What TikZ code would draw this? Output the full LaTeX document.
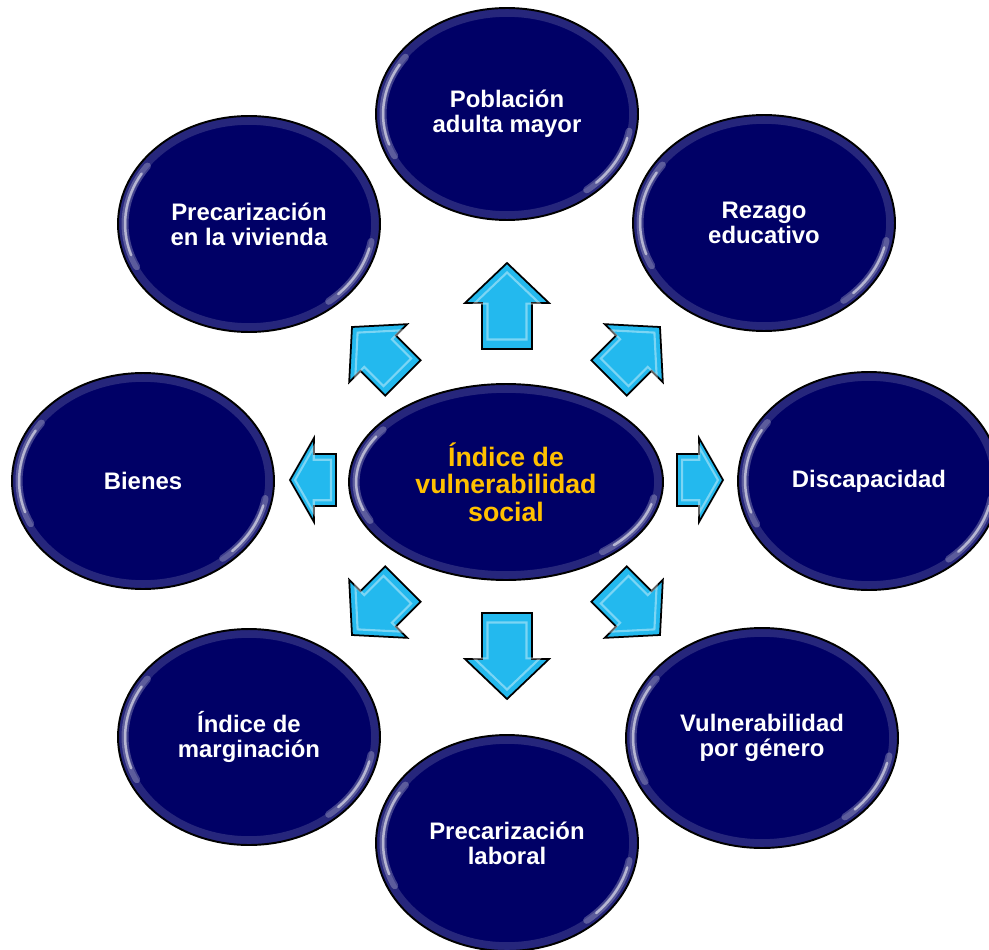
\documentclass[tikz,border=0pt]{standalone}
\usepackage{fontspec}
\setmainfont{Liberation Sans}
\definecolor{bubblenavy}{RGB}{0,0,102}
\definecolor{arrowcyan}{RGB}{35,185,238}
\definecolor{titlegold}{RGB}{255,192,0}
\usetikzlibrary{shapes.geometric,calc}

\tikzset{
  bubble/.style={ellipse, draw=black, line width=1.1pt, fill=bubblenavy, text=white,
    align=center, inner sep=0pt, minimum width=5.24cm, minimum height=4.32cm,
    font=\bfseries\fontsize{13.6}{14.2}\selectfont,
    path picture={
      \coordinate (gc) at (path picture bounding box.center);
      \draw[white, opacity=.15, line width=10pt]
        let \p1=($(path picture bounding box.north east)-(gc)$) in
        (gc) ellipse [x radius=\x1, y radius=\y1];
      \draw[white, opacity=.25, line width=4pt, line cap=round]
        let \p1=($(path picture bounding box.north east)-(gc)$) in
        (gc) ++(145:\x1-4pt and \y1-4pt)
          arc [start angle=145, end angle=205, x radius=\x1-4pt, y radius=\y1-4pt]
        (gc) ++(-10:\x1-4pt and \y1-4pt)
          arc [start angle=-10, end angle=-50, x radius=\x1-4pt, y radius=\y1-4pt];
      \draw[white, opacity=.55, line width=1.4pt, line cap=round]
        let \p1=($(path picture bounding box.north east)-(gc)$) in
        (gc) ++(150:\x1-4pt and \y1-4pt)
          arc [start angle=150, end angle=198, x radius=\x1-4pt, y radius=\y1-4pt]
        (gc) ++(-14:\x1-4pt and \y1-4pt)
          arc [start angle=-14, end angle=-44, x radius=\x1-4pt, y radius=\y1-4pt];
    }},
  arrowbody/.style={fill=arrowcyan, draw=black, line width=1pt, line join=miter},
  arrowshine/.style={draw=white, opacity=.4, line width=1.2pt},
  % #1 length, #2 head length, #3 head half width, #4 shaft half width
  pics/blockarrow/.style n args={4}{code={
    \filldraw[arrowbody] (0,0) -- (-#2,#3) -- (-#2,#4) -- (-#1,#4) -- (-#1,-#4)
      -- (-#2,-#4) -- (-#2,-#3) -- cycle;
    \draw[arrowshine, shift={(-#1/2,0)}, scale=0.78, shift={(#1/2,0)}]
      (0,0) -- (-#2,#3) -- (-#2,#4) -- (-#1,#4) -- (-#1,-#4)
      -- (-#2,-#4) -- (-#2,-#3) -- cycle;
  }}
}

\begin{document}
\begin{tikzpicture}[x=0.02cm, y=-0.02cm]
  \useasboundingbox (0,0) rectangle (989,949);

  % outer bubbles
  \node[bubble, minimum height=4.24cm] (pob) at (507,114) {Población\\adulta mayor};
  \node[bubble] (rez) at (764,223) {Rezago\\educativo};
  \node[bubble, minimum height=4.36cm] (dis) at (869,481) {Discapacidad};
  \node[bubble, minimum width=5.44cm, minimum height=4.4cm] (vul) at (762,738) {Vulnerabilidad\\por género};
  \node[bubble] (lab) at (507,843) {Precarización\\laboral};
  \node[bubble] (mar) at (249,737) {Índice de\\marginación};
  \node[bubble] (bie) at (143,481) {Bienes};
  \node[bubble] (viv) at (249,224) {Precarización\\en la vivienda};

  % centre
  \node[bubble, minimum width=6.28cm, minimum height=3.92cm, text=titlegold,
    font=\bfseries\fontsize{15.2}{15.6}\selectfont] (ivs) at (506,482)
    {Índice de\\vulnerabilidad\\social};

  % block arrows
  \pic[rotate=90]   at (507,263) {blockarrow={86}{40}{42}{25}};
  \pic[rotate=-90]  at (507,699) {blockarrow={86}{40}{42}{25}};
  \pic[rotate=180]  at (290,480) {blockarrow={46}{24}{42}{26}};
  \pic              at (723,480) {blockarrow={46}{24}{42}{26}};
  \pic[rotate=45]   at (660,327) {blockarrow={72}{37}{41}{25}};
  \pic[rotate=135]  at (352,327) {blockarrow={72}{37}{41}{25}};
  \pic[rotate=-135] at (352,635) {blockarrow={72}{37}{41}{25}};
  \pic[rotate=-45]  at (660,635) {blockarrow={72}{37}{41}{25}};
\end{tikzpicture}
\end{document}
